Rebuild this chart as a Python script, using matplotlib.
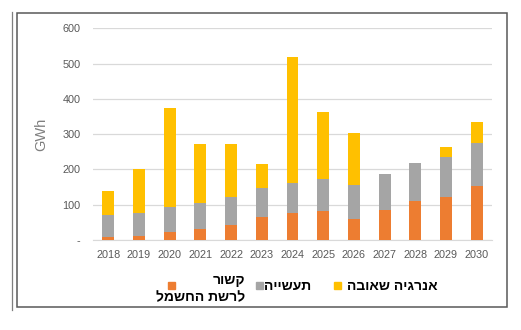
import matplotlib

matplotlib.use("Agg")
import matplotlib.pyplot as plt
import numpy as np
from matplotlib.patches import Rectangle
from matplotlib.lines import Line2D

years = [str(y) for y in range(2018, 2031)]
# stacked segments, GWh
grid_connected = [7.5, 12, 24, 30, 43, 64, 77.5, 82, 60, 85, 110.6, 122, 154]
industry = [63.5, 65.5, 70, 75, 78, 82.5, 85, 90, 96, 101, 107.4, 114, 122]
pumped_storage = [69, 124.5, 279, 168, 152, 68.5, 357.4, 192, 147, 0, 0, 27, 59.5]

label_grid_top = "קשור"
label_grid_bottom = "לרשת החשמל"
label_industry = "תעשייה"
label_storage = "אנרגיה שאובה"

ORANGE = "#ED7D31"
GRAY = "#A5A5A5"
YELLOW = "#FFC000"
TEXT_GRAY = "#595959"
HEB = ["Liberation Sans", "DejaVu Sans"]


def rtl(s):
    # matplotlib has no bidi support, so lay Hebrew out visually
    return s[::-1]


fig = plt.figure(figsize=(5.21, 3.30), dpi=100)
ax = fig.add_axes([93 / 521, 1 - 240 / 330, 399 / 521, 211.7 / 330])

x = np.arange(len(years))
w = 0.39
ax.bar(x, grid_connected, w, color=ORANGE, zorder=3)
ax.bar(x, industry, w, bottom=grid_connected, color=GRAY, zorder=3)
base = np.array(grid_connected) + np.array(industry)
ax.bar(x, pumped_storage, w, bottom=base, color=YELLOW, zorder=3)

ax.set_xlim(-0.5, len(years) - 0.5)
ax.set_ylim(0, 600)
ax.set_yticks(range(0, 601, 100))
ax.set_yticklabels(["-"] + [str(v) for v in range(100, 601, 100)])
ax.set_xticks(x)
ax.set_xticklabels(years)
ax.tick_params(length=0, colors=TEXT_GRAY, labelsize=7.8, pad=7)
ax.tick_params(axis="y", pad=9)
for lab in ax.get_xticklabels() + ax.get_yticklabels():
    lab.set_family("Liberation Sans")
ax.grid(axis="y", color="#D9D9D9", linewidth=0.9, zorder=0)
for side in ["top", "right", "left"]:
    ax.spines[side].set_visible(False)
ax.spines["bottom"].set_color("#D9D9D9")
ax.set_ylabel("GWh", color="#7F7F7F", fontsize=10.5, family="Liberation Sans", labelpad=10)

# outer frame like the pasted Excel chart
fig.patches.append(Rectangle((17 / 521, 1 - 307 / 330), 490 / 521, 294 / 330,
                             transform=fig.transFigure, fill=False,
                             edgecolor="#595959", linewidth=1.1))
fig.lines.append(Line2D([12 / 521, 12 / 521], [1 - 12 / 330, 1 - 310 / 330],
                        transform=fig.transFigure, color="#7F7F7F", linewidth=0.9))

# legend drawn by hand (right to left)
def square(px, py, color):
    fig.patches.append(Rectangle((px / 521, 1 - (py + 3.5) / 330), 7 / 521, 7 / 330,
                                 transform=fig.transFigure, color=color))


square(334, 285, YELLOW)
fig.text(438 / 521, 1 - 286 / 330, rtl(label_storage), ha="right", va="center",
         fontsize=10, fontweight="bold", family=HEB)
square(256, 285, GRAY)
fig.text(311 / 521, 1 - 286 / 330, rtl(label_industry), ha="right", va="center",
         fontsize=10, fontweight="bold", family=HEB)
square(168, 285, ORANGE)
fig.text(245 / 521, 1 - 280 / 330, rtl(label_grid_top), ha="right", va="center",
         fontsize=10, fontweight="bold", family=HEB)
fig.text(245 / 521, 1 - 297 / 330, rtl(label_grid_bottom), ha="right", va="center",
         fontsize=10, fontweight="bold", family=HEB)

fig.savefig("out.png", dpi=100)
